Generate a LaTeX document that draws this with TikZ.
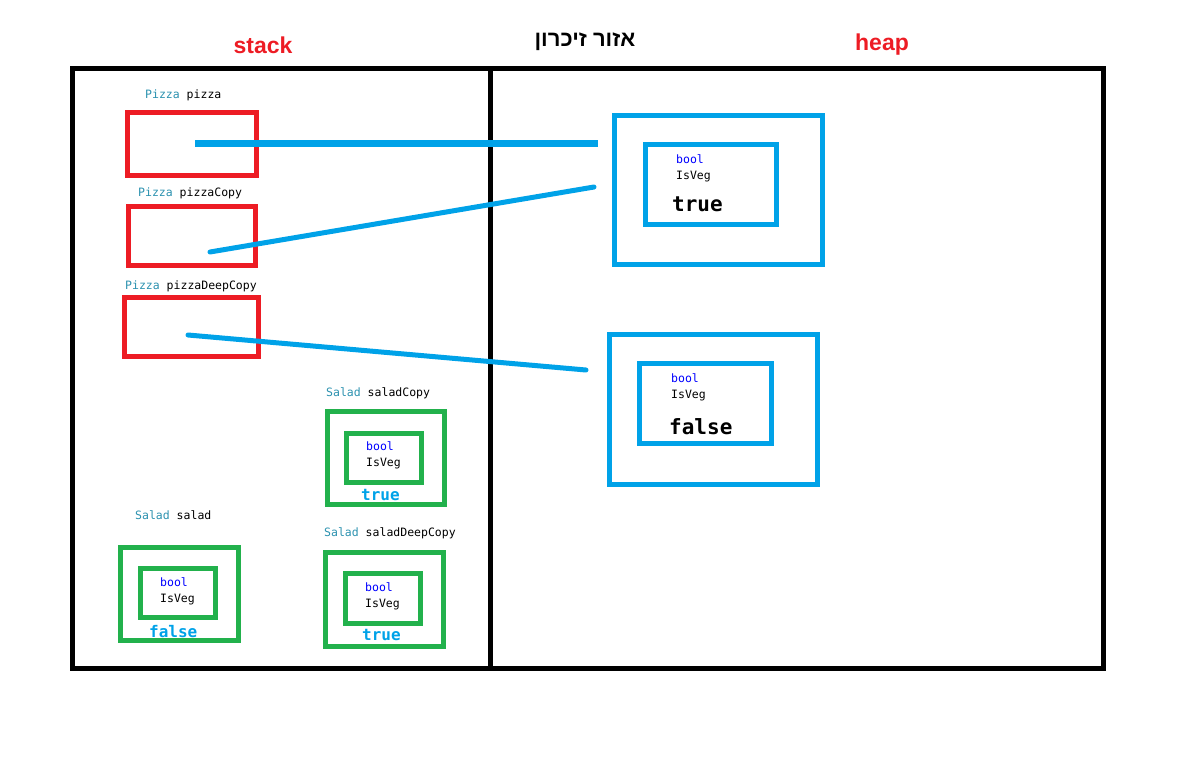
\documentclass[tikz,border=0pt]{standalone}
\usepackage{fontspec}
\setmainfont{Liberation Sans}
\setmonofont{DejaVu Sans Mono}
\newfontfamily\hebfont[Script=Hebrew]{Liberation Sans}
\TeXXeTstate=1
\usetikzlibrary{positioning}
\definecolor{stackred}{HTML}{ED1C24}
\definecolor{heapblue}{HTML}{00A2E8}
\definecolor{valgreen}{HTML}{22B14C}
\definecolor{typecol}{HTML}{2B91AF}
\definecolor{kwblue}{HTML}{0000FF}

\begin{document}
\begin{tikzpicture}[
    x=1pt, y=-1pt,
    frame/.style={draw=black, line width=5pt},
    refbox/.style={rectangle, draw=stackred, line width=5pt, inner sep=0pt, outer sep=0pt},
    objbox/.style={rectangle, draw=heapblue, line width=5pt, inner sep=0pt, outer sep=0pt},
    valbox/.style={rectangle, draw=valgreen, line width=5pt, inner sep=0pt, outer sep=0pt},
    pointer/.style={draw=heapblue, line width=5pt, line cap=round},
    varname/.style={anchor=west, inner sep=0pt, font=\ttfamily\fontsize{11.5}{14}\selectfont},
    field/.style={anchor=west, inner sep=0pt, align=left, font=\ttfamily\fontsize{11.5}{16}\selectfont},
    bigval/.style={anchor=west, inner sep=0pt, font=\ttfamily\bfseries\fontsize{21}{24}\selectfont},
    smallval/.style={anchor=west, inner sep=0pt, text=heapblue, font=\ttfamily\bfseries\fontsize{16}{18}\selectfont},
    title/.style={font=\bfseries\fontsize{23}{26}\selectfont}
]
    \useasboundingbox (0,0) rectangle (1198,766);

    % Memory regions
    \draw[frame] (72.5,68.5) rectangle (1103.5,668.5);
    \draw[frame] (490,68.5) -- (490,668.5);
    \node[title, text=stackred] (stacktitle) at (263,45) {stack};
    \node[title, text=stackred] (heaptitle) at (882,45) {heap};
    \node[font=\hebfont\bfseries\fontsize{22}{26}\selectfont] (areatitle) at (585,42) {\beginR אזור זיכרון\endR};

    % Stack references
    \node[refbox, minimum width=129, minimum height=63] (pizza) at (192,144) {};
    \node[refbox, minimum width=127, minimum height=59] (pizzacopy) at (192,236) {};
    \node[refbox, minimum width=134, minimum height=59] (pizzadeep) at (191.5,327) {};
    \node[varname] (pizzalbl) at (145,95) {\textcolor{typecol}{Pizza} pizza};
    \node[varname] (pizzacopylbl) at (138,193) {\textcolor{typecol}{Pizza} pizzaCopy};
    \node[varname] (pizzadeeplbl) at (125,286) {\textcolor{typecol}{Pizza} pizzaDeepCopy};

    % Heap objects
    \node[objbox, minimum width=208, minimum height=149] (objA) at (718.5,190) {};
    \node[objbox, minimum width=131, minimum height=80] (objAin) at (711,184.5) {};
    \node[field] (objAfld) at (676,168) {\textcolor{kwblue}{bool}\\IsVeg};
    \node[bigval] (objAval) at (672,204) {true};
    \node[objbox, minimum width=208, minimum height=150] (objB) at (713.5,409.5) {};
    \node[objbox, minimum width=132, minimum height=80] (objBin) at (705.5,403.5) {};
    \node[field] (objBfld) at (671,387.5) {\textcolor{kwblue}{bool}\\IsVeg};
    \node[bigval] (objBval) at (669,427) {false};

    % Pointers
    \coordinate (pizzaref) at (195,143);
    \coordinate (pizzacopyref) at (210,252);
    \coordinate (pizzadeepref) at (188,335);
    \coordinate (objAin1) at (598,143);
    \coordinate (objAin2) at (594,187);
    \coordinate (objBin1) at (586,370);
    \draw[pointer, line width=7pt, line cap=butt] (pizzaref) -- (objAin1);
    \draw[pointer] (pizzacopyref) -- (objAin2);
    \draw[pointer] (pizzadeepref) -- (objBin1);

    % Value types on the stack
    \node[varname] (saladcopylbl) at (326,393) {\textcolor{typecol}{Salad} saladCopy};
    \node[valbox, minimum width=117, minimum height=93] (saladcopy) at (386,458) {};
    \node[valbox, minimum width=75, minimum height=49] (saladcopyin) at (384,458) {};
    \node[field] (saladcopyfld) at (366,455.5) {\textcolor{kwblue}{bool}\\IsVeg};
    \node[smallval] (saladcopyval) at (361,495) {true};

    \node[varname] (saladlbl) at (135,515) {\textcolor{typecol}{Salad} salad};
    \node[valbox, minimum width=118, minimum height=93] (salad) at (179.5,594) {};
    \node[valbox, minimum width=75, minimum height=49] (saladin) at (178,593) {};
    \node[field] (saladfld) at (160,591.5) {\textcolor{kwblue}{bool}\\IsVeg};
    \node[smallval] (saladval) at (149,632) {false};

    \node[varname] (saladdeeplbl) at (324,533) {\textcolor{typecol}{Salad} saladDeepCopy};
    \node[valbox, minimum width=118, minimum height=94] (saladdeep) at (384.5,599.5) {};
    \node[valbox, minimum width=75, minimum height=50] (saladdeepin) at (383,598.5) {};
    \node[field] (saladdeepfld) at (365,596.5) {\textcolor{kwblue}{bool}\\IsVeg};
    \node[smallval] (saladdeepval) at (362,635) {true};
\end{tikzpicture}
\end{document}
